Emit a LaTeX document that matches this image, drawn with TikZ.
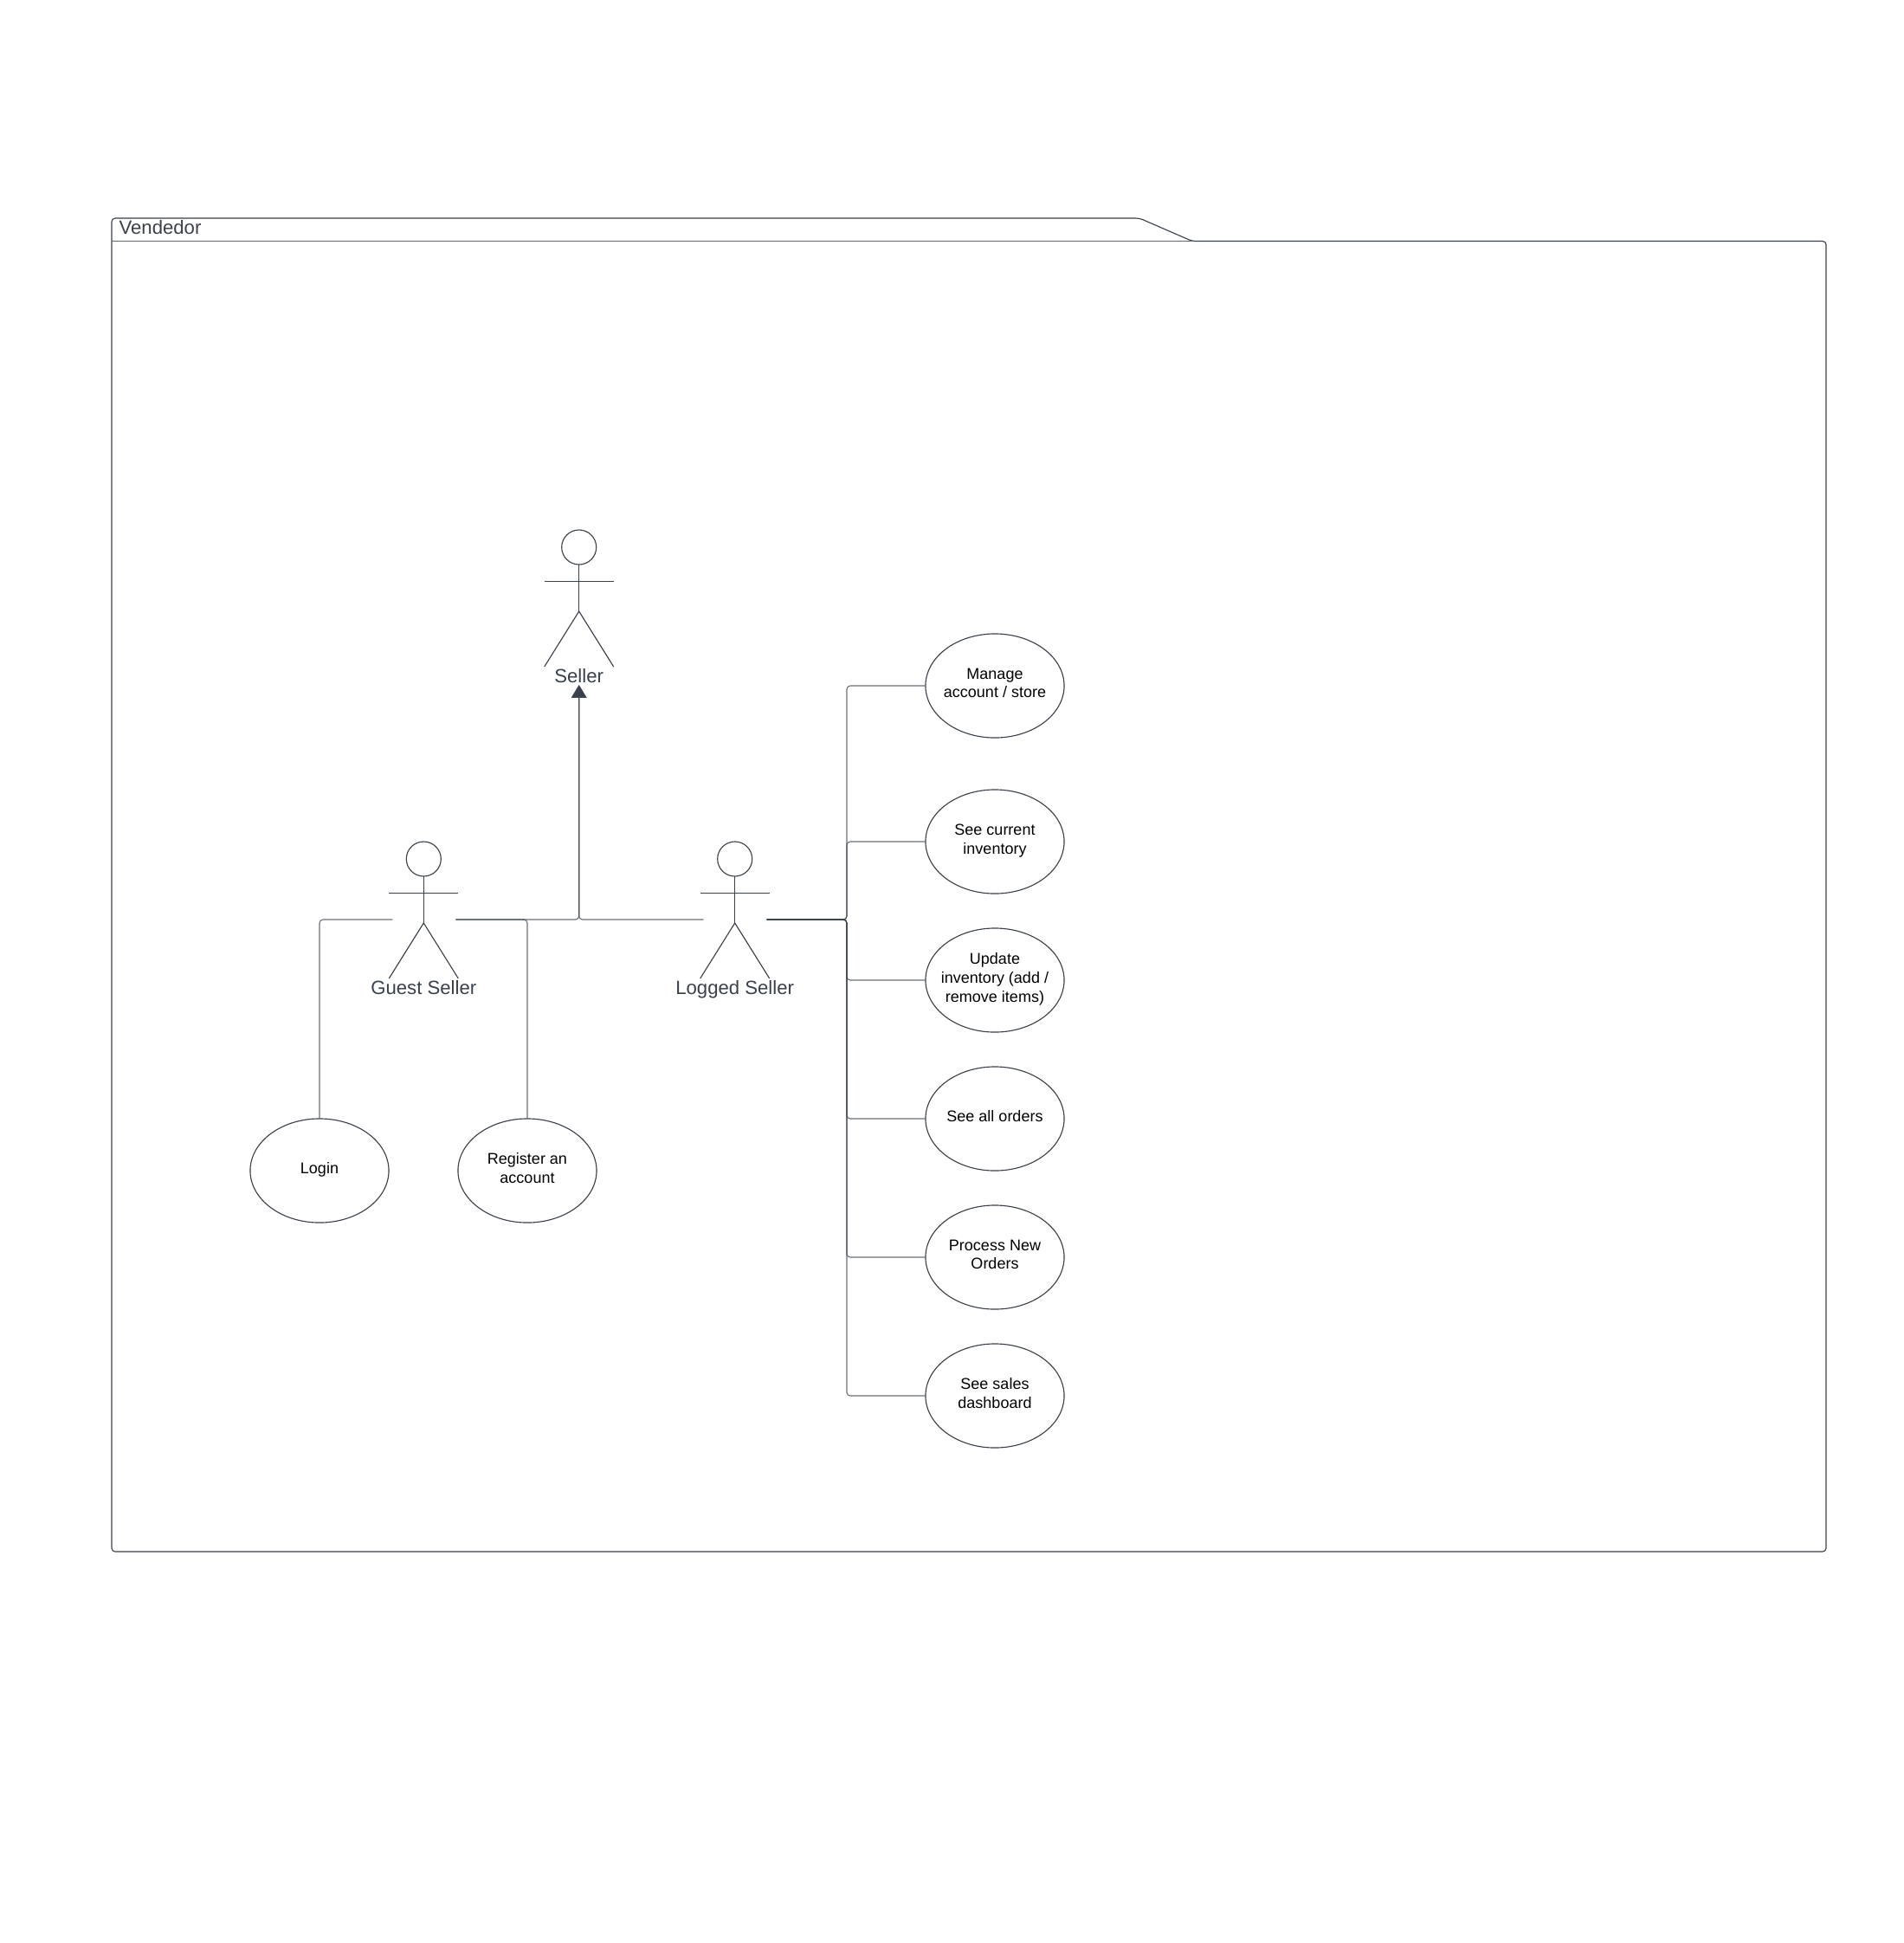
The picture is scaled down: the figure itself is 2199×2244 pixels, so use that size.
\documentclass[tikz,border=0pt]{standalone}
\usepackage{fontspec}
\setmainfont{Liberation Sans}
\usepackage{tikz}
\usetikzlibrary{arrows.meta}
\usetikzlibrary{shapes.geometric}
\definecolor{slate}{HTML}{3A414A}
\begin{document}
\begin{tikzpicture}[x=0.01cm,y=-0.01cm,line width=.32pt,
        usecase/.style={draw=slate,ellipse,minimum width=1.6cm,minimum height=1.2cm,inner sep=-.3cm,text depth=1.8pt,align=center,text=black,font=\fontsize{5.12}{6.2}\selectfont},
        actorlabel/.style={anchor=base,inner sep=0pt,text=slate,font=\fontsize{6.3}{7.5}\selectfont},
        link/.style={draw=slate,draw opacity=.75,rounded corners=.04cm},
        inherit/.style={link,-{Triangle[width=5pt,length=4.2pt,fill=slate]}}]
        \useasboundingbox (0,0) rectangle (2199,2244);

        \def\trunk{978} % vertical line on the right

        % Package
        \draw[slate,rounded corners=.04cm] (129,278.5) -- (129,252) -- (1316,252) -- (1377,278.5) -- (2109,278.5) -- (2109,1792) -- (129,1792) -- cycle;
        \draw[slate!80] (129,278.5) -- (1377,278.5);
        \node[actorlabel,anchor=base west] (pack) at (137,270) {Vendedor};

        % Actors
        \foreach \name/\x/\y/\txt in {seller/668.7/702/Seller,guest/489.3/1062/Guest Seller,logged/848.7/1062/Logged Seller}{
            \draw[slate] (\x,\y-70) circle (.2cm);
            \draw[slate] (\x,\y-50) -- (\x,\y+4);
            \draw[slate] (\x-40,\y-30.5) -- (\x+40,\y-30.5);
            \draw[slate] (\x-40,\y+68) -- (\x,\y+4) -- (\x+40,\y+68);
            \node[actorlabel] (\name) at (\x,\y+86) {\txt};
            \coordinate (\name L) at (\x-36,\y);
            \coordinate (\name R) at (\x+37,\y);
        }
        \coordinate (tip) at (668.7,791);

        % Use cases
        \node[usecase] (login) at (369,1352) {Login};
        \node[usecase] (register) at (609,1352) {Register an\\account};
        \node[usecase] (manage) at (1149,792) {Manage\\account / store};
        \node[usecase] (current) at (1149,972) {See current\\inventory};
        \node[usecase] (update) at (1149,1132) {Update\\inventory (add /\\remove items)};
        \node[usecase] (orders) at (1149,1292) {See all orders};
        \node[usecase] (process) at (1149,1452) {Process New\\Orders};
        \node[usecase] (dashboard) at (1149,1612) {See sales\\dashboard};

        % Generalisation
        \draw[inherit] (guestR) -| (tip);
        \draw[inherit] (loggedL) -| (tip);

        % Guest seller
        \draw[link] (guestL) -| (login.north);
        \draw[link] (guestR) -| (register.north);

        % Logged seller
        \foreach \uc in {manage,current,update,orders,process,dashboard}{
            \draw[link] (loggedR) -- (\trunk,1062) |- (\uc.west);
        }
\end{tikzpicture}
\end{document}
